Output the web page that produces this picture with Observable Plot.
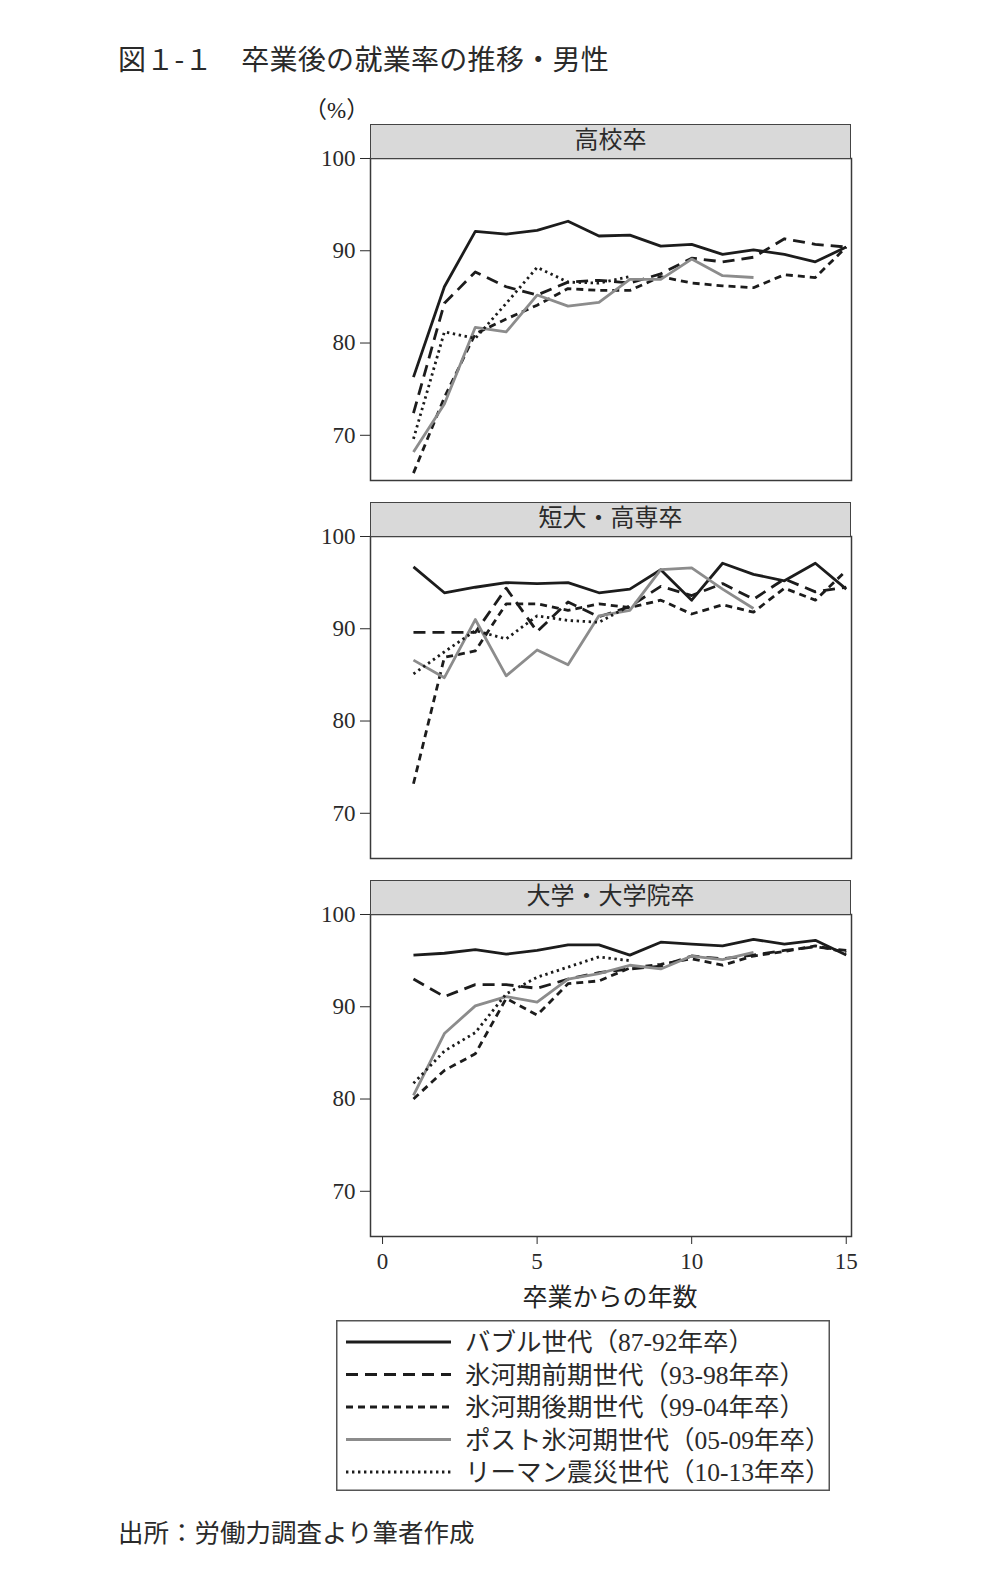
<!DOCTYPE html>
<html><head><meta charset="utf-8">
<script src="https://cdn.jsdelivr.net/npm/d3@7"></script>
<script src="https://cdn.jsdelivr.net/npm/@observablehq/plot@0.6"></script>
<style>
html,body{margin:0;padding:0;background:#fff;}
body{width:997px;height:1573px;position:relative;overflow:hidden;color:#222;font-family:"Liberation Serif","Noto Sans CJK JP",serif;}
.abs{position:absolute;}
.title{left:118px;top:39px;font-family:"Noto Sans CJK JP","Noto Sans",sans-serif;font-size:28px;letter-spacing:0.3px;color:#2a2a2a;white-space:pre;line-height:38px;}
.strip{left:370px;width:481px;height:35px;box-sizing:border-box;border:1.5px solid #444;background:#d9d9d9;text-align:center;font-size:24px;line-height:31px;color:#2a2a2a;z-index:2;font-family:"Liberation Serif","Noto Sans CJK JP",serif;}
.unit{left:304px;top:96px;font-size:23px;line-height:30px;}
.xlab{left:460px;width:300px;top:1282px;text-align:center;font-size:25px;line-height:32px;}
.caption{left:118px;top:1516px;font-size:25.5px;line-height:36px;color:#2a2a2a;}
.panel{left:300px;z-index:1;}
</style></head><body>
<div class="abs title">図１-１　卒業後の就業率の推移・男性</div>
<div class="abs unit">（%）</div>
<div class="abs xlab">卒業からの年数</div>
<div class="abs caption">出所：労働力調査より筆者作成</div>
<div id="legend" class="abs" style="left:336px;top:1320px;"></div>
<script>
// ---- data ----
const seriesNames = ["バブル世代（87-92年卒）","氷河期前期世代（93-98年卒）","氷河期後期世代（99-04年卒）","ポスト氷河期世代（05-09年卒）","リーマン震災世代（10-13年卒）"];
const panelNames = ["高校卒","短大・高専卒","大学・大学院卒"];
const xTicks = [0,5,10,15];
const yTicks = [70,80,90,100];

// 高校卒
const hsBubble = [76.3,86.1,92.1,91.8,92.2,93.2,91.6,91.7,90.5,90.7,89.6,90.1,89.6,88.8,90.4];
const hsEarly  = [72.4,84.3,87.7,86.1,85.2,86.6,86.8,86.5,87.5,89.2,88.8,89.3,91.3,90.7,90.4];
const hsLate   = [65.9,74.1,81.0,82.6,84.1,85.9,85.7,85.7,87.2,86.5,86.2,86.0,87.4,87.1,90.4];
const hsPost   = [68.2,73.4,81.7,81.2,85.2,84.0,84.4,86.9,86.9,89.1,87.3,87.1];
const hsLehman = [69.6,81.2,80.5,84.3,88.2,86.6,86.5,87.2];

// 短大・高専卒
const jcBubble = [96.7,93.9,94.5,95.0,94.9,95.0,93.9,94.3,96.4,93.1,97.1,95.9,95.2,97.1,94.3];
const jcEarly  = [89.6,89.6,89.6,94.4,89.7,92.9,91.3,92.4,94.6,93.6,94.9,93.2,95.4,94.0,94.5];
const jcLate   = [73.2,86.9,87.6,92.7,92.7,92.0,92.7,92.3,93.1,91.6,92.6,91.8,94.4,93.1,96.3];
const jcPost   = [86.6,84.7,91.0,84.9,87.7,86.1,91.4,92.0,96.4,96.6,94.3,92.2];
const jcLehman = [85.1,87.5,89.8,88.9,91.4,90.9,90.7,92.5];

// 大学・大学院卒
const unBubble = [95.6,95.8,96.2,95.7,96.1,96.7,96.7,95.6,97.0,96.8,96.6,97.3,96.8,97.2,95.6];
const unEarly  = [93.0,91.1,92.4,92.4,92.0,93.0,93.7,94.1,94.4,95.5,95.2,95.6,96.1,96.5,96.1];
const unLate   = [80.0,83.1,84.9,90.9,89.1,92.5,92.8,94.2,94.6,95.2,94.5,95.5,96.0,96.6,95.9];
const unPost   = [80.4,87.1,90.1,91.1,90.5,93.0,93.6,94.5,94.1,95.5,95.1,95.9];
const unLehman = [81.7,85.2,87.2,91.4,93.2,94.3,95.4,95.0];

const panelSeries = [
  [hsBubble,hsEarly,hsLate,hsPost,hsLehman],
  [jcBubble,jcEarly,jcLate,jcPost,jcLehman],
  [unBubble,unEarly,unLate,unPost,unLehman]
];

// ---- styles ----
const styles = [
  {stroke:"#1c1c1c", dash:null},
  {stroke:"#1c1c1c", dash:"12,7"},
  {stroke:"#1c1c1c", dash:"7,5"},
  {stroke:"#8c8c8c", dash:null},
  {stroke:"#1c1c1c", dash:"2.4,3.6"}
];
const LW = 2.8;

const stripTops = [124, 502, 880];
const frameTops = [158, 536, 914];
const innerH = 322;

panelNames.forEach((pname, p) => {
  const last = p === panelNames.length - 1;
  const mTop = 14, mBot = last ? 48 : 6;
  const rows = [];
  panelSeries[p].forEach((vals, s) => vals.forEach((v, i) => rows.push({panel: pname, series: seriesNames[s], s, year: i + 1, value: v})));
  const marks = [Plot.frame({stroke: "#3a3a3a", strokeWidth: 1.5})];
  styles.forEach((st, s) => {
    marks.push(Plot.line(rows.filter(d => d.s === s), {
      x: "year", y: "value", stroke: st.stroke, strokeWidth: LW,
      strokeDasharray: st.dash, strokeLinejoin: "round", strokeLinecap: "butt"
    }));
  });
  const chart = Plot.plot({
    width: 561,
    height: mTop + innerH + mBot,
    marginLeft: 70, marginRight: 10, marginTop: mTop, marginBottom: mBot,
    x: {domain: [-0.39, 15.17], ticks: xTicks, tickSize: 8, tickPadding: 8, label: null, axis: last ? "bottom" : null, tickFormat: d3.format("d")},
    y: {domain: [65.1, 100], ticks: yTicks, tickSize: 10, tickPadding: 5, label: null, tickFormat: d3.format("d")},
    style: {fontSize: "23px", fontFamily: "'Liberation Serif', serif", color: "#2a2a2a", background: "transparent", overflow: "visible"},
    marks
  });
  const wrap = document.createElement("div");
  wrap.className = "abs panel";
  wrap.style.top = (frameTops[p] - mTop) + "px";
  wrap.appendChild(chart);
  document.body.appendChild(wrap);

  const strip = document.createElement("div");
  strip.className = "abs strip";
  strip.style.top = stripTops[p] + "px";
  strip.textContent = pname;
  document.body.appendChild(strip);
});

// ---- legend ----
const LWd = 494, LHt = 171;
const leg = d3.select("#legend").append("svg").attr("width", LWd).attr("height", LHt).style("overflow","visible");
leg.append("rect").attr("x", 0.75).attr("y", 0.75).attr("width", LWd - 1.5).attr("height", LHt - 1.5)
  .attr("fill", "none").attr("stroke", "#555").attr("stroke-width", 1.5);
seriesNames.forEach((name, i) => {
  const cy = 22 + i * 32.5;
  leg.append("line").attr("x1", 10).attr("x2", 115).attr("y1", cy).attr("y2", cy)
    .attr("stroke", styles[i].stroke).attr("stroke-width", LW)
    .attr("stroke-dasharray", styles[i].dash);
  leg.append("text").attr("x", 129).attr("y", cy).attr("dy", "0.36em")
    .attr("font-size", 25.5).attr("fill", "#2a2a2a")
    .attr("font-family", "'Liberation Serif','Noto Sans CJK JP',serif")
    .text(name);
});
</script>
</body></html>
